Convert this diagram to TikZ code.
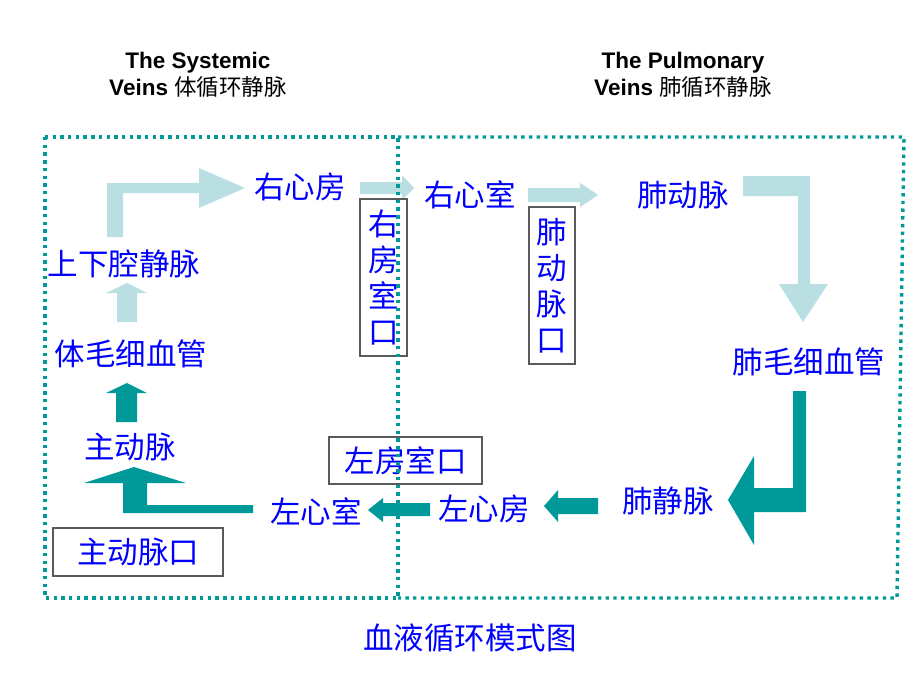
\documentclass[tikz,border=0pt]{standalone}
\usepackage{fontspec}
\setmainfont{Liberation Sans}
\newfontfamily\cjk{Noto Sans CJK SC}
\definecolor{txtblue}{RGB}{0,0,255}
\definecolor{lightteal}{RGB}{185,223,227}
\definecolor{darkteal}{RGB}{0,153,153}
\definecolor{boxgray}{RGB}{90,90,90}
\begin{document}
\begin{tikzpicture}[x=1pt,y=-1pt,
  lbl/.style={font=\cjk\fontsize{30.5}{36}\selectfont, text=txtblue, inner sep=0pt},
  hdr/.style={font=\fontsize{22.5}{27}\selectfont\bfseries, align=center, inner sep=0pt},
  valve/.style={draw=boxgray, line width=1.2pt, fill=white},
  light/.style={fill=lightteal},
  dark/.style={fill=darkteal},
  dotbox/.style={draw=darkteal, line width=3.4pt, dash pattern=on 3.4pt off 4.3pt}]
\useasboundingbox (0,0) rectangle (920,690);

% headers
\node[hdr] (hs) at (198,75) {The Systemic\\Veins {\cjk\mdseries 体循环静脉}};
\node[hdr] (hp) at (683,75) {The Pulmonary\\Veins {\cjk\mdseries 肺循环静脉}};

% block arrows (light)
\fill[light] (107,237) -- (107,183) -- (199,183) -- (199,168) -- (245,188) -- (199,208) -- (199,193) -- (123,193) -- (123,237) -- cycle;
\fill[light] (117,322) -- (117,293) -- (106,293) -- (127,283) -- (147,293) -- (137,293) -- (137,322) -- cycle;
\fill[light] (360,182) -- (402,182) -- (402,175) -- (414,188) -- (402,200) -- (402,194) -- (360,194) -- cycle;
\fill[light] (528,188) -- (580,188) -- (580,183) -- (598,195) -- (580,207) -- (580,202) -- (528,202) -- cycle;
\fill[light] (743,176) -- (810,176) -- (810,284) -- (828,284) -- (803,322) -- (779,284) -- (798,284) -- (798,196) -- (743,196) -- cycle;

% block arrows (dark)
\fill[dark] (793,391) -- (806,391) -- (806,512) -- (754,512) -- (754,545) -- (728,500) -- (754,456) -- (754,488) -- (793,488) -- cycle;
\fill[dark] (598,498) -- (598,514) -- (558,514) -- (558,522) -- (544,506) -- (558,490) -- (558,498) -- cycle;
\fill[dark] (430,503) -- (430,516) -- (383,516) -- (383,522) -- (368,510) -- (383,498) -- (383,503) -- cycle;
\fill[dark] (253,505) -- (253,513) -- (123,513) -- (123,483) -- (84,483) -- (134,467) -- (186,483) -- (147,483) -- (147,505) -- cycle;
\fill[dark] (116,422) -- (116,393) -- (106,393) -- (127,383) -- (147,393) -- (137,393) -- (137,422) -- cycle;

% labels
\node[lbl] (rxf) at (300,187) {右心房};
\node[lbl] (rxs) at (470,195) {右心室};
\node[lbl] (fdm) at (683,195) {肺动脉};
\node[lbl] (fmx) at (809,362) {肺毛细血管};
\node[lbl] (fjm) at (668,501) {肺静脉};
\node[lbl] (zxf) at (484,509) {左心房};
\node[lbl] (zxs) at (316,511) {左心室};
\node[lbl] (zdm) at (130,447) {主动脉};
\node[lbl] (tmx) at (131,354) {体毛细血管};
\node[lbl] (sxq) at (124,264) {上下腔静脉};
\node[lbl] (cap) at (470,638) {血液循环模式图};

% valve boxes
\node[valve, lbl, align=center, minimum width=47pt, minimum height=157pt] (rfsk) at (383.5,277.5) {右\\房\\室\\口};
\node[valve, lbl, align=center, minimum width=46pt, minimum height=157pt] (fdmk) at (552,285.5) {肺\\动\\脉\\口};
\node[valve, lbl, minimum width=153pt, minimum height=47pt] (zfsk) at (405.5,460.5) {左房室口};
\node[valve, lbl, minimum width=170pt, minimum height=48pt] (zdmk) at (138,552) {主动脉口};

% dotted frames
\draw[dotbox] (45,137) rectangle (398,598);
\draw[dotbox] (398,137) -- (904,137) -- (897,598) -- (398,598);
\end{tikzpicture}
\end{document}
